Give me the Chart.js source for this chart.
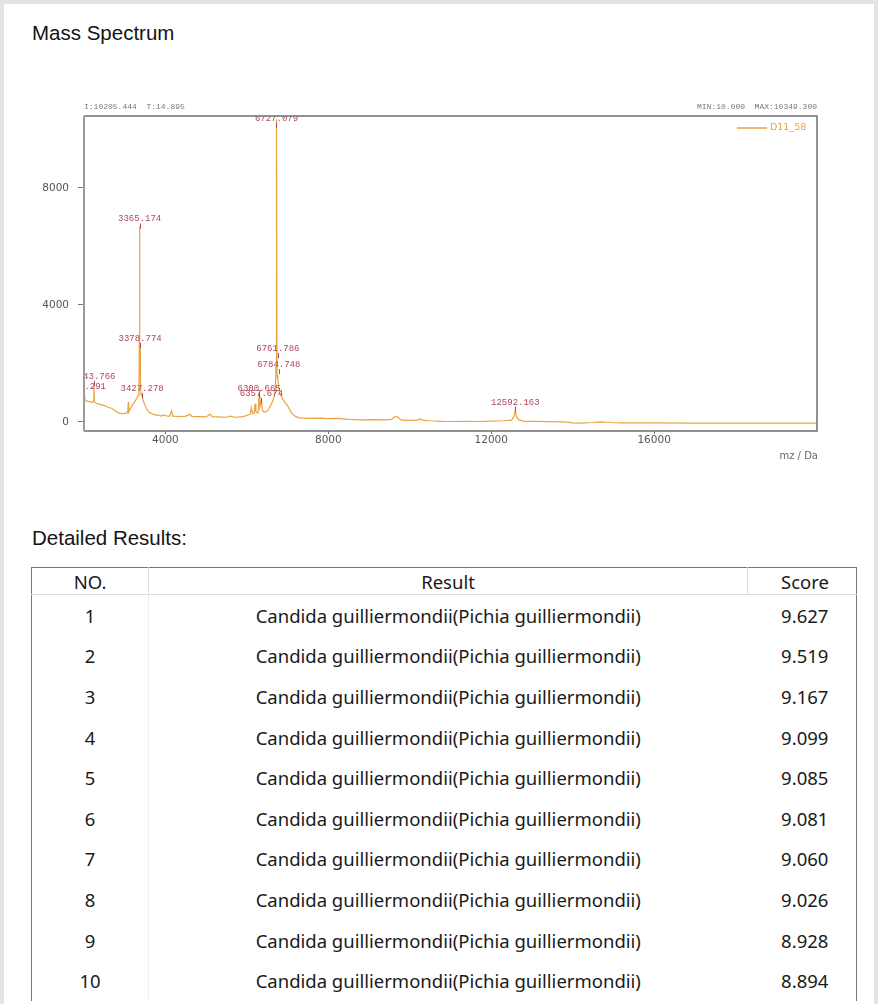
<!DOCTYPE html>
<html>
<head>
<meta charset="utf-8">
<script src="https://cdn.jsdelivr.net/npm/chart.js@4/dist/chart.umd.min.js"></script>
<style>
  html, body { margin: 0; padding: 0; }
  body { width: 878px; height: 1004px; background: #e4e4e4; position: relative; overflow: hidden; font-family: "Liberation Sans", Arial, sans-serif; }
  #panel { position: absolute; left: 4px; top: 4px; width: 870px; height: 1010px; background: #fff; }
  .h { position: absolute; left: 32px; font-size: 20.5px; line-height: 20px; color: #141414; }
  #wrap { position: absolute; left: 0; top: 95px; width: 878px; height: 380px; }
  table { position: absolute; left: 31px; top: 567px; width: 826px; border-collapse: collapse; font-family: "Noto Sans", "Open Sans", sans-serif; font-size: 18.5px; color: #1a1a1a; }
  th { font-weight: normal; height: 26px; padding: 0; border: 1px solid #dcdcdc; border-top: 1.5px solid #777; }
  th:first-child { border-left: 1.5px solid #777; }
  th:last-child { border-right: 1.5px solid #777; }
  td { height: 40.6px; padding: 0; text-align: center; }
  td:first-child { border-left: 1.5px solid #777; border-right: 1px solid #eeeeee; }
  td:last-child { border-right: 1.5px solid #777; padding-left: 6px; }
</style>
</head>
<body>
<div id="panel"></div>
<div class="h" style="top:23px">Mass Spectrum</div>
<div id="wrap"><canvas id="c" width="878" height="380"></canvas></div>
<div class="h" style="top:528px">Detailed Results:</div>
<table id="tbl">
  <thead><tr><th style="width:116px">NO.</th><th style="width:598px">Result</th><th style="padding-left:6px">Score</th></tr></thead>
  <tbody></tbody>
</table>
<script>
// ---- spectrum data (m/z, intensity) ----
const mzValues = [
  2000, 2010, 2025, 2060, 2100, 2150, 2200, 2230, 2243, 2256, 2300, 2400, 2500, 2600, 2700, 2750, 2800, 2850, 2900, 2950, 3000,
  3060, 3075, 3087, 3100, 3150, 3200, 3250, 3300, 3330, 3350, 3360, 3365, 3370, 3378, 3385, 3400, 3427, 3450, 3500, 3550, 3600, 3700, 3800, 3900, 3950,
  4000, 4100, 4150, 4180, 4300, 4400, 4500, 4600, 4650, 4800, 5000, 5100, 5150, 5300, 5500, 5600, 5700, 5850, 5950,
  6000, 6080, 6110, 6140, 6180, 6200, 6220, 6270, 6300, 6320, 6357, 6380, 6420, 6480, 6530, 6580, 6630, 6680, 6700, 6715, 6727, 6740,
  6761, 6784, 6800, 6840, 6880, 6920, 6960, 7000, 7050, 7100, 7200, 7300,
  7500, 7800, 8000, 8200, 8500, 8800, 9100, 9400, 9550, 9620, 9680, 9740, 9800, 10000, 10200, 10250, 10300, 10500, 10800, 11100, 11400,
  11700, 12000, 12300, 12500, 12560, 12592, 12620, 12680, 12800, 13000, 13400, 13800, 14000, 14200, 14500, 14700, 14900, 15200, 15600,
  16000, 17000, 18000, 19000, 20000
];
const intensityValues = [
  820, 950, 760, 720, 700, 690, 660, 700, 1300, 690, 640, 600, 560, 500, 450, 400, 340, 310, 290, 280, 290,
  320, 330, 680, 340, 480, 600, 700, 820, 900, 1200, 3000, 6680, 2200, 2600, 1400, 950, 880, 750, 560, 420, 330, 260, 230, 200, 240,
  210, 190, 380, 200, 190, 180, 200, 260, 190, 180, 170, 270, 180, 170, 160, 200, 160, 170, 200,
  230, 260, 480, 280, 300, 620, 350, 300, 900, 500, 720, 420, 330, 360, 420, 560, 700, 900, 1150, 1900, 10349, 1600,
  1450, 1150, 1000, 900, 780, 700, 620, 560, 420, 300, 180, 140,
  120, 130, 110, 120, 90, 70, 80, 70, 90, 170, 190, 120, 60, 50, 60, 110, 60, 40, 20, 15, 20,
  15, 25, 40, 60, 200, 420, 180, 70, 30, 20, 10, 0, -30, -40, -20, 0, -20, -30, -35,
  -35, -40, -40, -40, -40
];
// ---- peak annotations ----
const peakMz = [2010, 2243, 3365, 3378, 3427, 6300, 6357, 6727, 6761, 6784, 12592];
const peakIntensity = [950, 1300, 6680, 2600, 880, 900, 720, 10349, 2250, 1700, 420];
const peakLabels = ["2010.291", "2243.766", "3365.174", "3378.774", "3427.278", "6300.665", "6357.674", "6727.079", "6761.786", "6784.748", "12592.163"];
// ---- axes ----
const xTickValues = [4000, 8000, 12000, 16000];
const yTickValues = [0, 4000, 8000];
const xRange = [2000, 20000];
const yRange = [-310, 10460];
const seriesName = "D11_58";
const headerLeft = "I:10205.444  T:14.895";
const headerRight = "MIN:10.000  MAX:10349.300";
const axisTitle = "mz / Da";
// ---- results table ----
const resultNos = [1, 2, 3, 4, 5, 6, 7, 8, 9, 10];
const resultNames = Array(10).fill("Candida guilliermondii(Pichia guilliermondii)");
const resultScores = ["9.627", "9.519", "9.167", "9.099", "9.085", "9.081", "9.060", "9.026", "8.928", "8.894"];

const tb = document.querySelector('#tbl tbody');
resultNos.forEach((n, i) => {
  const tr = document.createElement('tr');
  [n, resultNames[i], resultScores[i]].forEach(v => { const td = document.createElement('td'); td.textContent = v; tr.appendChild(td); });
  tb.appendChild(tr);
});

const LINE = '#e9a440';
const LABEL = '#b0475c';

const decor = {
  id: 'decor',
  afterDatasetsDraw(chart) {
    const ctx = chart.ctx, a = chart.chartArea;
    const xs = chart.scales.x, ys = chart.scales.y;
    // peak labels, clipped to plot area
    ctx.save();
    ctx.beginPath(); ctx.rect(a.left, a.top, a.right - a.left, a.bottom - a.top); ctx.clip();
    ctx.font = '9px "Liberation Mono", "DejaVu Sans Mono", monospace';
    ctx.fillStyle = LABEL; ctx.strokeStyle = LABEL; ctx.lineWidth = 1;
    ctx.textAlign = 'center'; ctx.textBaseline = 'bottom';
    peakMz.forEach((m, i) => {
      const px = xs.getPixelForValue(m);
      let py = ys.getPixelForValue(peakIntensity[i]) - 3;
      if (py < a.top + 7) py = a.top + 7;
      ctx.fillText(peakLabels[i], px, py);
      ctx.beginPath(); ctx.moveTo(Math.round(px) + 0.5, py); ctx.lineTo(Math.round(px) + 0.5, py + 5); ctx.stroke();
    });
    ctx.restore();
    // frame
    ctx.save();
    ctx.strokeStyle = '#6e6e6e'; ctx.lineWidth = 1.5;
    ctx.beginPath();
    ctx.moveTo(a.left, a.top); ctx.lineTo(a.right, a.top); ctx.lineTo(a.right, a.bottom); ctx.lineTo(a.left, a.bottom);
    ctx.stroke();
    ctx.strokeStyle = '#9a9a9a'; ctx.lineWidth = 2;
    ctx.beginPath(); ctx.moveTo(a.left, a.top); ctx.lineTo(a.left, a.bottom); ctx.stroke();
    // header texts
    ctx.font = '8px "Liberation Mono", monospace';
    ctx.fillStyle = '#7a7a7a'; ctx.textBaseline = 'middle';
    ctx.textAlign = 'left'; ctx.fillText(headerLeft, a.left, a.top - 9);
    ctx.textAlign = 'right'; ctx.fillText(headerRight, a.right, a.top - 9);
    // legend
    ctx.strokeStyle = LINE; ctx.lineWidth = 1.5;
    ctx.beginPath(); ctx.moveTo(a.right - 80, a.top + 12); ctx.lineTo(a.right - 50, a.top + 12); ctx.stroke();
    ctx.font = '9.5px "DejaVu Sans", sans-serif'; ctx.fillStyle = LINE; ctx.textAlign = 'left';
    ctx.fillText(seriesName, a.right - 47, a.top + 12);
    // axis title
    ctx.font = '10px "DejaVu Sans", sans-serif'; ctx.fillStyle = '#666'; ctx.textAlign = 'right';
    ctx.fillText(axisTitle, a.right + 1, a.bottom + 25);
    ctx.restore();
  }
};

new Chart(document.getElementById('c'), {
  type: 'line',
  data: {
    datasets: [{
      label: seriesName,
      data: mzValues.map((m, i) => ({ x: m, y: intensityValues[i] })),
      borderColor: LINE, borderWidth: 1.2, pointRadius: 0, tension: 0, fill: false
    }]
  },
  options: {
    responsive: false, animation: false,
    layout: { padding: { top: 21, right: 61, bottom: 0, left: 0 } },
    plugins: { legend: { display: false }, tooltip: { enabled: false } },
    scales: {
      x: {
        type: 'linear', min: xRange[0], max: xRange[1],
        afterBuildTicks: s => { s.ticks = xTickValues.map(v => ({ value: v })); },
        afterFit: s => { s.height = 44; },
        grid: { display: true, drawOnChartArea: false, drawTicks: true, tickLength: 3, color: '#777' },
        border: { display: false },
        ticks: { color: '#555', font: { family: 'DejaVu Sans', size: 10.5 }, padding: 0, maxRotation: 0, callback: v => String(v) }
      },
      y: {
        type: 'linear', min: yRange[0], max: yRange[1],
        afterBuildTicks: s => { s.ticks = yTickValues.map(v => ({ value: v })); },
        afterFit: s => { s.width = 84; },
        grid: { display: true, drawOnChartArea: false, drawTicks: true, tickLength: 6, color: '#777' },
        border: { display: false },
        ticks: { color: '#555', font: { family: 'DejaVu Sans', size: 10.5 }, padding: 9, callback: v => String(v) }
      }
    }
  },
  plugins: [decor]
});
</script>
</body>
</html>
